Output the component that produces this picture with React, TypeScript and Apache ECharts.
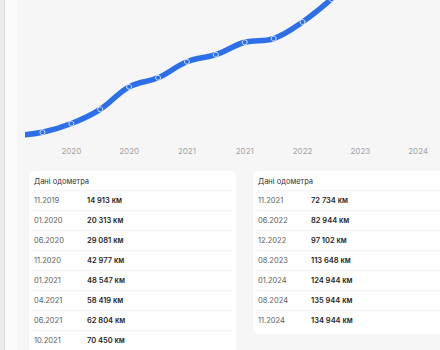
import React, { useEffect, useRef } from "react";
import * as echarts from "echarts";

const dates = ["11.2019", "01.2020", "06.2020", "11.2020", "01.2021", "04.2021", "06.2021", "10.2021", "11.2021", "06.2022", "12.2022", "08.2023", "01.2024", "08.2024", "11.2024"];
const mileage = [14913, 20313, 29081, 42977, 48547, 58419, 62804, 70450, 72734, 82944, 97102, 113648, 124944, 135944, 134944];
const leadIn = 12800; // estimated earlier reading, only its entry segment is visible
const years = dates.map((d) => d.slice(3));
const labelIdx = [1, 3, 5, 7, 9, 11, 13];
const tableTitle = "Дані одометра";
const leftRows = 8;
const unit = "км";

const OFF = 80;
const FONT = "Inter, 'Noto Sans', sans-serif";

const fmt = (v: number) => String(v).replace(/\B(?=(\d{3})+(?!\d))/g, " ") + " " + unit;

function card(x: number, y: number, w: number, h: number, idxs: number[], sepX2: number) {
  const children: any[] = [];
  children.push({ type: "rect", shape: { x, y: y + OFF, width: w, height: h, r: 5 }, style: { fill: "#ffffff" }, z: 1 });
  children.push({ type: "text", x: x + 5, y: 181 + OFF, style: { text: tableTitle, fontSize: 7.5, fontFamily: FONT, fill: "#333333", verticalAlign: "middle" }, z: 3 });
  idxs.forEach((di, i) => {
    const ry = 200.8 + 20 * i;
    children.push({ type: "line", shape: { x1: x + 4, y1: ry - 10 + OFF, x2: sepX2, y2: ry - 10 + OFF }, style: { stroke: "#f0f0f0", lineWidth: 1 }, z: 2 });
    children.push({ type: "text", x: x + 5, y: ry + OFF, style: { text: dates[di], fontSize: 7.5, fontFamily: FONT, fill: "#5c5c5c", verticalAlign: "middle" }, z: 3 });
    children.push({ type: "text", x: x + 58, y: ry + OFF, style: { text: fmt(mileage[di]), fontSize: 7.5, fontWeight: 600, fontFamily: FONT, fill: "#262626", verticalAlign: "middle" }, z: 3 });
  });
  return children;
}

export default function App() {
  const ref = useRef<HTMLDivElement>(null);
  useEffect(() => {
    if (!ref.current) return;
    const chart = echarts.init(ref.current, undefined, { renderer: "svg" });
    const leftIdx = dates.map((_, i) => i).slice(0, leftRows);
    const rightIdx = dates.map((_, i) => i).slice(leftRows);
    const data: any[] = [{ value: [-1, leadIn], symbol: "none" }].concat(
      mileage.map((v, i) => ({ value: [i, v] }))
    );
    chart.setOption({
      animation: false,
      backgroundColor: "transparent",
      grid: { left: 28, top: 0, width: 433.5, height: 221, containLabel: false },
      xAxis: {
        type: "value",
        min: -0.5,
        max: 14.5,
        axisLine: { show: false },
        axisTick: { show: false },
        splitLine: { show: false },
        axisLabel: {
          customValues: labelIdx,
          formatter: (v: number) => years[Math.round(v)] ?? "",
          color: "#a3a3a3",
          fontSize: 8,
          fontFamily: FONT,
          margin: 6,
        },
      },
      yAxis: { type: "value", min: 9550, max: 145850, show: false, splitLine: { show: false } },
      series: [
        {
          type: "line",
          data,
          smooth: 0.4,
          clip: true,
          symbol: "circle",
          symbolSize: 5,
          showAllSymbol: true,
          lineStyle: { color: "#2c6fe8", width: 5.5 },
          itemStyle: { color: "#2c6fe8", borderColor: "#dfe9fb", borderWidth: 1 },
          z: 5,
        },
      ],
      graphic: [
        ...card(29, 171, 207, 210, leftIdx, 232),
        ...card(253, 171, 230, 163, rightIdx, 470),
      ],
    });
    return () => chart.dispose();
  }, []);
  return (
    <div style={{ position: "fixed", left: 0, top: 0, width: 440, height: 350, overflow: "hidden", background: "#f6f6f6" }}>
      <div style={{ position: "absolute", left: 0, top: 0, width: 4, height: 350, background: "#ececec" }} />
      <div style={{ position: "absolute", left: 4, top: 0, width: 1, height: 350, background: "#dcdcdc" }} />
      <div style={{ position: "absolute", left: 5, top: 0, width: 12, height: 350, background: "#fbfbfb" }} />
      <div ref={ref} style={{ position: "absolute", left: 0, top: -OFF, width: 500, height: 350 + OFF + 40 }} />
    </div>
  );
}
